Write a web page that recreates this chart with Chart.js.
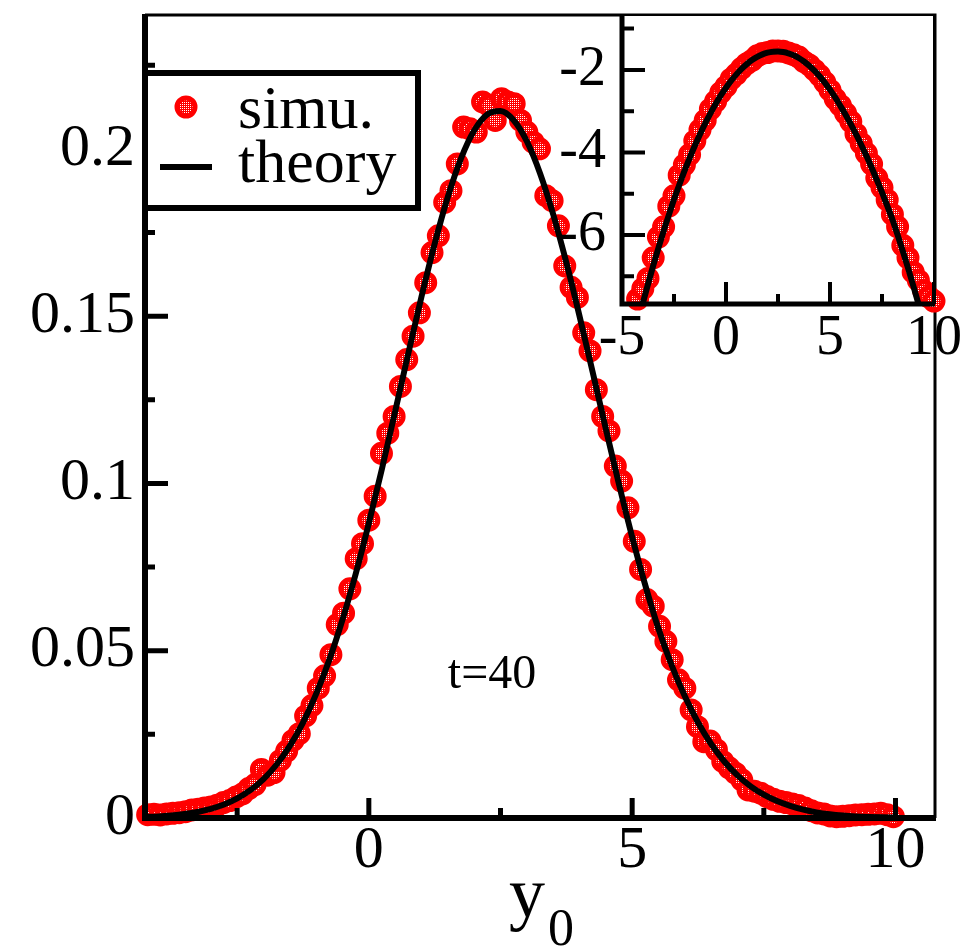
<!DOCTYPE html>
<html>
<head>
<meta charset="utf-8">
<title>y0 distribution at t=40</title>
<script src="https://cdn.jsdelivr.net/npm/chart.js@4.4.1/dist/chart.umd.min.js"></script>
<style>
  body { margin: 0; background: #fff; }
  #wrap { position: relative; width: 969px; height: 950px; }
  #inset { position: absolute; left: 540px; top: 0; }
</style>
</head>
<body>
<div id="wrap">
  <canvas id="myChart" width="969" height="950"></canvas>
  <canvas id="inset" width="429" height="380"></canvas>
</div>
<script>
// simulation histogram (bin centres and heights)
const simX = [
  -4.2, -4.08, -3.96, -3.84, -3.72, -3.6, -3.48, -3.36, -3.24, -3.12,
  -3, -2.88, -2.76, -2.64, -2.52, -2.4, -2.28, -2.16, -2.04, -1.92,
  -1.8, -1.68, -1.56, -1.44, -1.32, -1.2, -1.08, -0.96, -0.84, -0.72,
  -0.6, -0.48, -0.36, -0.24, -0.12, 0, 0.12, 0.24, 0.36, 0.48,
  0.6, 0.72, 0.84, 0.96, 1.08, 1.2, 1.32, 1.44, 1.56, 1.68,
  1.8, 1.92, 2.04, 2.16, 2.28, 2.4, 2.52, 2.64, 2.76, 2.88,
  3, 3.12, 3.24, 3.36, 3.48, 3.6, 3.72, 3.84, 3.96, 4.08,
  4.2, 4.32, 4.44, 4.56, 4.68, 4.8, 4.92, 5.04, 5.16, 5.28,
  5.4, 5.52, 5.64, 5.76, 5.88, 6, 6.12, 6.24, 6.36, 6.48,
  6.6, 6.72, 6.84, 6.96, 7.08, 7.2, 7.32, 7.44, 7.56, 7.68,
  7.8, 7.92, 8.04, 8.16, 8.28, 8.4, 8.52, 8.64, 8.76, 8.88,
  9, 9.12, 9.24, 9.36, 9.48, 9.6, 9.72, 9.84, 9.96
];
const simY = [
  0.0010, 0.0011, 0.0009, 0.0012, 0.0014, 0.0016, 0.0019, 0.0024, 0.0026, 0.0030,
  0.0033, 0.0038, 0.0046, 0.0052, 0.0063, 0.0072, 0.0088, 0.0100, 0.0145, 0.0128,
  0.0136, 0.0172, 0.0200, 0.0232, 0.0252, 0.0305, 0.0336, 0.0388, 0.0425, 0.0488,
  0.0578, 0.0612, 0.0685, 0.0775, 0.0820, 0.0890, 0.0962, 0.1090, 0.1150, 0.1200,
  0.1290, 0.1370, 0.1440, 0.1510, 0.1600, 0.1690, 0.1740, 0.1840, 0.1875, 0.1955,
  0.2065, 0.2060, 0.2050, 0.2140, 0.2130, 0.2085, 0.2150, 0.2140, 0.2135, 0.2085,
  0.2050, 0.2020, 0.2000, 0.1860, 0.1845, 0.1770, 0.1650, 0.1586, 0.1556, 0.1450,
  0.1396, 0.1280, 0.1200, 0.1157, 0.1052, 0.1007, 0.0927, 0.0827, 0.0743, 0.0653,
  0.0633, 0.0573, 0.0528, 0.0473, 0.0413, 0.0388, 0.0323, 0.0273, 0.0228, 0.0230,
  0.0204, 0.0169, 0.0150, 0.0134, 0.0114, 0.0084, 0.0080, 0.0074, 0.0064, 0.0056,
  0.0050, 0.0046, 0.0042, 0.0037, 0.0030, 0.0022, 0.0015, 0.0012, 0.0006, 0.0004,
  0.0005, 0.0007, 0.0009, 0.0010, 0.0011, 0.0012, 0.0014, 0.0010, 0.0004
];

// theory curve, every 0.25
const theoryX = [
  -4.25, -4, -3.75, -3.5, -3.25, -3, -2.75, -2.5, -2.25, -2,
  -1.75, -1.5, -1.25, -1, -0.75, -0.5, -0.25, 0, 0.25, 0.5,
  0.75, 1, 1.25, 1.5, 1.75, 2, 2.25, 2.5, 2.75, 3,
  3.25, 3.5, 3.75, 4, 4.25, 4.5, 4.75, 5, 5.25, 5.5,
  5.75, 6, 6.25, 6.5, 6.75, 7, 7.25, 7.5, 7.75, 8,
  8.25, 8.5, 8.75, 9, 9.25, 9.5, 9.75, 10
];
const theoryY = [
  0.00029, 0.00047, 0.00076, 0.00118, 0.00181, 0.00273, 0.00402, 0.00585, 0.00832, 0.01164,
  0.01599, 0.02156, 0.02852, 0.03710, 0.04731, 0.05930, 0.07293, 0.08807, 0.10443, 0.12153,
  0.13889, 0.15582, 0.17166, 0.18565, 0.19711, 0.20546, 0.21028, 0.21130, 0.20856, 0.20227,
  0.19273, 0.18045, 0.16601, 0.15005, 0.13327, 0.11629, 0.09970, 0.08399, 0.06953, 0.05655,
  0.04566, 0.03636, 0.02854, 0.02211, 0.01689, 0.01273, 0.00947, 0.00696, 0.00505, 0.00362,
  0.00249, 0.00168, 0.00112, 0.00073, 0.00047, 0.00030, 0.00019, 0.00011
];

// inset: log of the distribution, same x grid as the theory
const insetSimY = [
  -7.55, -7.30, -7.05, -6.55, -6.05, -5.80, -5.30, -5.05, -4.55, -4.30,
  -4.05, -3.72, -3.45, -3.22, -2.95, -2.76, -2.55, -2.40, -2.22, -2.10,
  -1.96, -1.85, -1.77, -1.66, -1.60, -1.58, -1.54, -1.54, -1.55, -1.59,
  -1.63, -1.69, -1.80, -1.88, -2.00, -2.13, -2.30, -2.49, -2.70, -2.86,
  -3.05, -3.25, -3.55, -3.78, -4.02, -4.28, -4.62, -4.85, -5.15, -5.50,
  -5.80, -6.25, -6.55, -6.90, -7.10, -7.35, -7.50, -7.60
];
const insetTheoryY = [
  -8.135, -7.654, -7.189, -6.742, -6.314, -5.903, -5.516, -5.141, -4.789, -4.453,
  -4.136, -3.837, -3.557, -3.294, -3.051, -2.825, -2.618, -2.430, -2.259, -2.108,
  -1.974, -1.859, -1.762, -1.684, -1.624, -1.583, -1.559, -1.554, -1.568, -1.598,
  -1.646, -1.712, -1.796, -1.897, -2.015, -2.152, -2.306, -2.477, -2.666, -2.873,
  -3.086, -3.314, -3.556, -3.812, -4.081, -4.364, -4.660, -4.968, -5.288, -5.621,
  -5.995, -6.389, -6.794, -7.222, -7.662, -8.112, -8.570, -9.120
];

// ticks
const xMajor = [0, 5, 10];
const xMinor = [-2.5, 2.5, 7.5];
const xLabels = ['0', '5', '10'];
const yMajor = [0, 0.05, 0.1, 0.15, 0.2];
const yMinor = [0.025, 0.075, 0.125, 0.175, 0.225];
const yLabels = ['0', '0.05', '0.1', '0.15', '0.2'];

const insetXMajor = [-5, 0, 5, 10];
const insetXMinor = [-2.5, 2.5, 7.5];
const insetXLabels = ['-5', '0', '5', '10'];
const insetYMajor = [-2, -4, -6];
const insetYMinor = [-1, -3, -5, -7];
const insetYLabels = ['-2', '-4', '-6'];

const red = '#ff0000';
const serif = '"Liberation Serif", "Times New Roman", serif';
Chart.defaults.font.family = serif;
Chart.defaults.color = '#000';

// red circles with a sparse white dot fill
function dotPattern(ctx) {
  const c = document.createElement('canvas');
  c.width = 2; c.height = 2;
  const g = c.getContext('2d');
  g.fillStyle = red;
  g.fillRect(0, 0, 2, 2);
  g.fillStyle = '#fff';
  g.fillRect(0, 0, 1, 1);
  return ctx.createPattern(c, 'repeat');
}

const pts = (xs, ys) => xs.map((v, i) => ({ x: v, y: ys[i] }));

// keep the plot area where layout padding puts it
const noPadX = s => { s.paddingLeft = 0; s.paddingRight = 0; };
const noPadY = s => { s.paddingTop = 0; s.paddingBottom = 0; };

// thick left/bottom axes, thin top/right, inward ticks
function framePlugin(o) {
  return {
    id: 'frame',
    afterDatasetsDraw(chart) {
      const { ctx, chartArea: a } = chart;
      const x = chart.scales.x, y = chart.scales.y;
      ctx.save();
      ctx.strokeStyle = '#000';
      ctx.lineWidth = o.thin;
      ctx.beginPath();
      ctx.moveTo(a.left, a.top);
      ctx.lineTo(a.right, a.top);
      ctx.lineTo(a.right, a.bottom);
      ctx.stroke();

      ctx.lineWidth = o.tickW;
      ctx.beginPath();
      o.xMajor.forEach(v => {
        const p = x.getPixelForValue(v);
        ctx.moveTo(p, a.bottom); ctx.lineTo(p, a.bottom - o.xMajLen);
      });
      o.xMinor.forEach(v => {
        const p = x.getPixelForValue(v);
        ctx.moveTo(p, a.bottom); ctx.lineTo(p, a.bottom - o.xMinLen);
      });
      o.yMajor.forEach(v => {
        const p = y.getPixelForValue(v);
        ctx.moveTo(a.left, p); ctx.lineTo(a.left + o.yMajLen, p);
      });
      o.yMinor.forEach(v => {
        const p = y.getPixelForValue(v);
        ctx.moveTo(a.left, p); ctx.lineTo(a.left + o.yMinLen, p);
      });
      ctx.stroke();

      ctx.lineWidth = o.thick;
      ctx.beginPath();
      ctx.moveTo(a.left, a.top - 1);
      ctx.lineTo(a.left, a.bottom);
      ctx.lineTo(a.right + 1, a.bottom);
      ctx.stroke();
      ctx.restore();
    }
  };
}

// ---------------- main plot ----------------
const ctx = document.getElementById('myChart').getContext('2d');
const mainDots = dotPattern(ctx);

const legendBox = {
  id: 'legendBox',
  afterDraw(chart) {
    const c = chart.ctx, a = chart.chartArea;
    const sets = chart.data.datasets;
    const left = a.left, top = a.top + 58;
    c.save();
    c.fillStyle = '#fff';
    c.fillRect(left, top, 273, 135);
    c.lineWidth = 6;
    c.strokeStyle = '#000';
    c.strokeRect(left, top, 273, 135);

    c.beginPath();
    c.arc(left + 41, top + 34, 9, 0, Math.PI * 2);
    c.fillStyle = mainDots;
    c.fill();
    c.lineWidth = 5;
    c.strokeStyle = red;
    c.stroke();

    c.beginPath();
    c.moveTo(left + 15, top + 94);
    c.lineTo(left + 67, top + 94);
    c.lineWidth = 6;
    c.strokeStyle = '#000';
    c.stroke();

    c.fillStyle = '#000';
    c.font = '62px ' + serif;
    c.textBaseline = 'alphabetic';
    c.fillText(sets[1].label, left + 93, top + 55);
    c.fillText(sets[0].label, left + 93, top + 109);

    // time stamp inside the plot
    c.font = '48px ' + serif;
    c.fillText('t=40', chart.scales.x.getPixelForValue(1.5), chart.scales.y.getPixelForValue(0.039));

    // axis title y with subscript 0
    const cx = (a.left + a.right) / 2;
    c.font = '72px ' + serif;
    c.fillText('y', cx - 31, 917);
    c.font = '52px ' + serif;
    c.fillText('0', cx + 8, 945);
    c.restore();
  }
};

const myChart = new Chart(ctx, {
  type: 'scatter',
  data: {
    datasets: [{
      label: 'theory',
      data: pts(theoryX, theoryY),
      showLine: true,
      borderColor: '#000',
      borderWidth: 6,
      pointRadius: 0,
      cubicInterpolationMode: 'monotone',
      order: 0,
      clip: 0
    }, {
      label: 'simu.',
      data: pts(simX, simY),
      pointRadius: 9,
      pointBorderWidth: 5,
      pointBorderColor: red,
      pointBackgroundColor: mainDots,
      order: 1,
      clip: 14
    }]
  },
  options: {
    responsive: false,
    animation: false,
    devicePixelRatio: 1,
    events: [],
    layout: { padding: { top: 15, right: 34, left: 0, bottom: 0 } },
    plugins: { legend: { display: false }, tooltip: { enabled: false } },
    scales: {
      x: {
        type: 'linear',
        min: -4.25,
        max: 10.75,
        grid: { display: false, drawTicks: false },
        border: { display: false },
        afterFit(s) { s.height = 132; noPadX(s); },
        afterBuildTicks(s) { s.ticks = xMajor.map(v => ({ value: v })); },
        ticks: {
          autoSkip: false,
          maxRotation: 0,
          padding: 3,
          font: { size: 60, lineHeight: 1 },
          callback: (v, i) => xLabels[i]
        }
      },
      y: {
        type: 'linear',
        min: 0,
        max: 0.24,
        grid: { display: false, drawTicks: false },
        border: { display: false },
        afterFit(s) { s.width = 145; noPadY(s); },
        afterBuildTicks(s) { s.ticks = yMajor.map(v => ({ value: v })); },
        ticks: {
          autoSkip: false,
          padding: 10,
          font: { size: 60, lineHeight: 1 },
          callback: (v, i) => yLabels[i]
        }
      }
    }
  },
  plugins: [framePlugin({
    thin: 3, thick: 6, tickW: 5,
    xMajor, xMinor, yMajor, yMinor,
    xMajLen: 20, xMinLen: 10, yMajLen: 23, yMinLen: 10
  }), legendBox]
});

// ---------------- inset: log scale view ----------------
const ictx = document.getElementById('inset').getContext('2d');
const insetDots = dotPattern(ictx);

const whiteArea = {
  id: 'whiteArea',
  beforeDraw(chart) {
    const a = chart.chartArea;
    chart.ctx.save();
    chart.ctx.fillStyle = '#fff';
    chart.ctx.fillRect(a.left, a.top, a.right - a.left, a.bottom - a.top);
    chart.ctx.restore();
  }
};

const insetChart = new Chart(ictx, {
  type: 'scatter',
  data: {
    datasets: [{
      label: 'theory',
      data: pts(theoryX, insetTheoryY),
      showLine: true,
      borderColor: '#000',
      borderWidth: 6,
      pointRadius: 0,
      cubicInterpolationMode: 'monotone',
      order: 0,
      clip: 0
    }, {
      label: 'simu.',
      data: pts(theoryX, insetSimY),
      pointRadius: 9,
      pointBorderWidth: 5,
      pointBorderColor: red,
      pointBackgroundColor: insetDots,
      order: 1,
      clip: 14
    }]
  },
  options: {
    responsive: false,
    animation: false,
    devicePixelRatio: 1,
    events: [],
    layout: { padding: { top: 15, right: 35, left: 0, bottom: 0 } },
    plugins: { legend: { display: false }, tooltip: { enabled: false } },
    scales: {
      x: {
        type: 'linear',
        min: -5,
        max: 10,
        grid: { display: false, drawTicks: false },
        border: { display: false },
        afterFit(s) { s.height = 76; noPadX(s); },
        afterBuildTicks(s) { s.ticks = insetXMajor.map(v => ({ value: v })); },
        ticks: {
          autoSkip: false,
          maxRotation: 0,
          padding: 7,
          font: { size: 56, lineHeight: 1 },
          callback: (v, i) => insetXLabels[i]
        }
      },
      y: {
        type: 'linear',
        min: -7.67,
        max: -0.67,
        grid: { display: false, drawTicks: false },
        border: { display: false },
        afterFit(s) { s.width = 82; noPadY(s); },
        afterBuildTicks(s) { s.ticks = insetYMajor.map(v => ({ value: v })); },
        ticks: {
          autoSkip: false,
          padding: 16,
          font: { size: 56, lineHeight: 1 },
          callback: (v, i) => insetYLabels[i]
        }
      }
    }
  },
  plugins: [whiteArea, framePlugin({
    thin: 2, thick: 5, tickW: 4,
    xMajor: insetXMajor, xMinor: insetXMinor, yMajor: insetYMajor, yMinor: insetYMinor,
    xMajLen: 22, xMinLen: 10, yMajLen: 23, yMinLen: 12
  })]
});
</script>
</body>
</html>
